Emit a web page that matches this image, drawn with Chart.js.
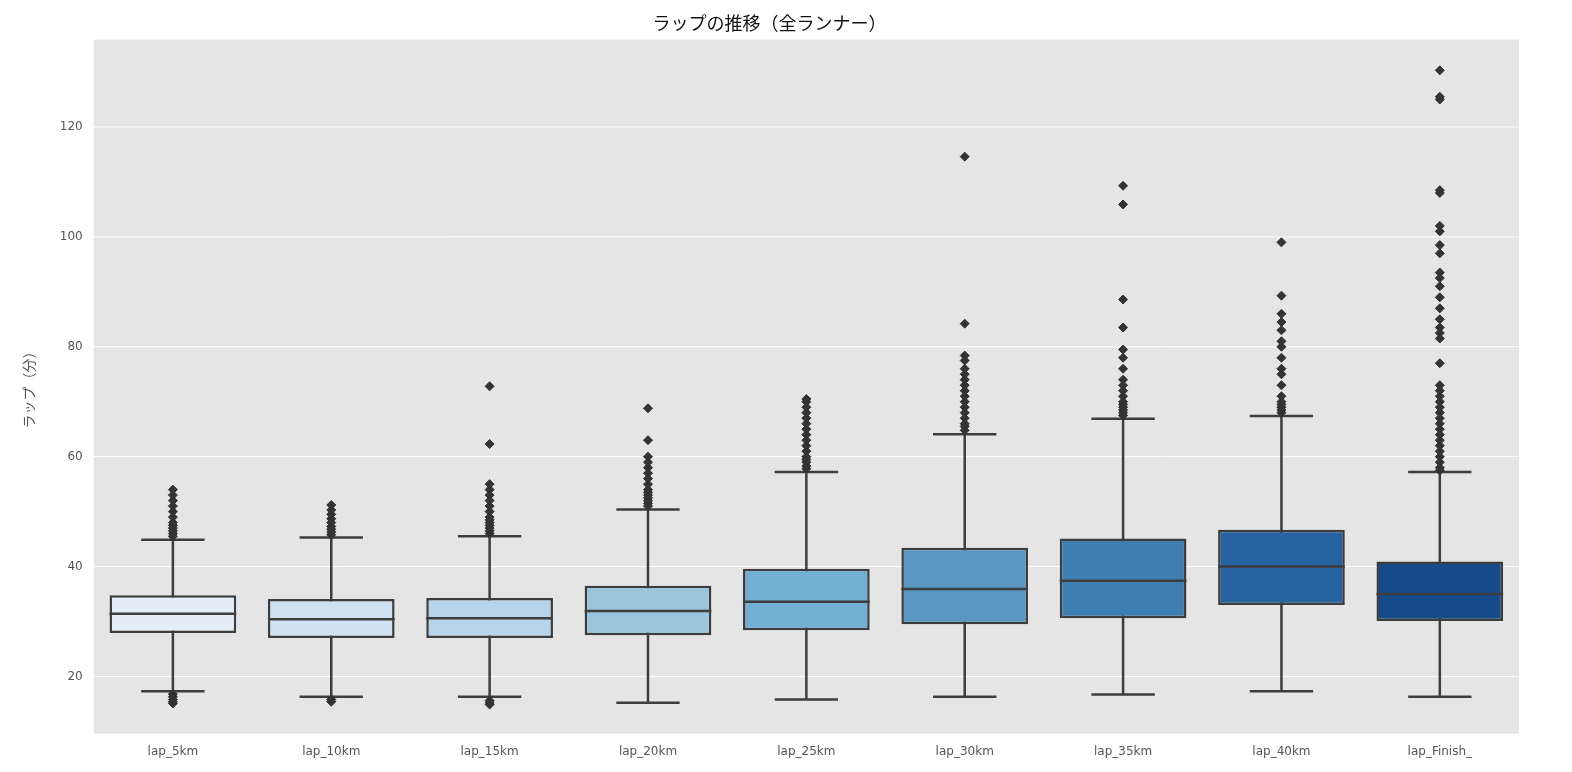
<!DOCTYPE html>
<html><head><meta charset="utf-8">
<script src="https://cdn.jsdelivr.net/npm/chart.js@4/dist/chart.umd.min.js"></script>
<style>html,body{margin:0;background:#fff}#wrap{width:1572px;height:772px}</style>
</head><body><div id="wrap"><canvas id="c"></canvas></div>
<script>
const categories = ['lap_5km','lap_10km','lap_15km','lap_20km','lap_25km','lap_30km','lap_35km','lap_40km','lap_Finish_'];
const q1 = [27.9,27.0,27.0,27.5,28.4,29.5,30.6,33.0,30.1];
const q3 = [34.8,34.1,34.3,36.5,39.6,43.4,45.1,46.7,40.9];
const medians = [31.4,30.4,30.6,31.9,33.6,35.9,37.4,40.0,35.0];
const whiskerLow = [17.3,16.3,16.3,15.2,15.8,16.3,16.7,17.3,16.3];
const whiskerHigh = [44.9,45.3,45.5,50.4,57.2,64.1,66.9,67.4,57.2];
const outliers = [
  [45.5,46,46.5,47,47.5,48,49,50,51,52,53,54,16.8,16.3,15.8,15.4,15.1],
  [45.8,46.3,46.8,47.3,48,48.7,49.5,50.3,51.2,15.8,15.4],
  [46,46.5,47,47.5,48,48.5,49,50,51,52,53,54,55,62.3,72.8,15.6,15.2,14.9],
  [51,51.5,52,52.5,53,53.5,54,55,56,57,58,59,60,63,68.8],
  [57.8,58.3,59,59.5,60,61,62,63,64,65,66,67,68,69,70,70.5],
  [64.8,65.5,66,67,68,69,70,71,72,73,74,75,76,77.5,78.4,84.2,114.6],
  [67.5,68,68.5,69,69.5,70,71,72,73,74,76,78,79.5,83.5,88.6,105.9,109.3],
  [68,68.5,69,69.5,70,71,73,75,76,78,80,81,83,84.5,86,89.3,99],
  [57.5,58,59,60,61,62,63,64,65,66,67,68,69,70,71,72,73,77,81.5,82.5,83.5,85,87,89,91,92.5,93.5,97,98.5,101,102,108,108.5,125,125.5,130.3]
];
const yTicks = [20,40,60,80,100,120];
const colors = ['#e3eef9','#d0e1f2','#b7d4ea','#9ac4dc','#73aed3','#5a97c2','#3e7eb0','#2863a1','#144b88'];
const edge = '#3d3d3d';

const outlierPoints = [];
outliers.forEach((arr,i)=>arr.forEach(v=>outlierPoints.push({x:categories[i],y:v})));

const boxPlugin = {
  id:'box',
  beforeDatasetsDraw(chart){
    const {ctx,scales:{x,y}} = chart;
    const meta = chart.getDatasetMeta(0);
    ctx.save();
    ctx.fillStyle='#e5e5e5';
    const a=chart.chartArea; ctx.fillRect(a.left,a.top,a.right-a.left,a.bottom-a.top);
    ctx.strokeStyle='#ffffff'; ctx.lineWidth=1;
    yTicks.forEach(t=>{const py=y.getPixelForValue(t);ctx.beginPath();ctx.moveTo(a.left,py);ctx.lineTo(a.right,py);ctx.stroke();});
    ctx.strokeStyle=edge; ctx.lineWidth=2.5;
    categories.forEach((c,i)=>{
      const cx=x.getPixelForValue(i); const hw=meta.data[i].width/4;
      const pl=y.getPixelForValue(whiskerLow[i]), ph=y.getPixelForValue(whiskerHigh[i]);
      ctx.beginPath();
      ctx.moveTo(cx,pl);ctx.lineTo(cx,ph);
      ctx.moveTo(cx-hw,pl);ctx.lineTo(cx+hw,pl);
      ctx.moveTo(cx-hw,ph);ctx.lineTo(cx+hw,ph);
      ctx.stroke();
    });
    ctx.restore();
  },
  afterDatasetsDraw(chart){
    const {ctx,scales:{x,y}} = chart;
    const meta = chart.getDatasetMeta(0);
    ctx.save(); ctx.strokeStyle=edge; ctx.lineWidth=2.5;
    categories.forEach((c,i)=>{
      const cx=x.getPixelForValue(i), hw=meta.data[i].width/2, pm=y.getPixelForValue(medians[i]);
      ctx.beginPath();ctx.moveTo(cx-hw,pm);ctx.lineTo(cx+hw,pm);ctx.stroke();
    });
    ctx.restore();
  }
};

new Chart(document.getElementById('c'),{
  data:{labels:categories,datasets:[
    {type:'bar',data:categories.map((c,i)=>[q1[i],q3[i]]),backgroundColor:colors,borderColor:edge,borderWidth:2.5,borderSkipped:false,barPercentage:0.8,categoryPercentage:1,order:2},
    {type:'line',data:outlierPoints,showLine:false,pointStyle:'rectRot',pointRadius:4.5,pointBackgroundColor:'#333',pointBorderColor:'#333',order:1}
  ]},
  options:{
    responsive:true,maintainAspectRatio:false,animation:false,
    layout:{padding:{left:20,right:53,top:12,bottom:10}},
    plugins:{legend:{display:false},tooltip:{enabled:false},
      title:{display:true,text:'ラップの推移（全ランナー）',color:'#111',font:{family:'Noto Sans CJK JP',size:18,weight:'normal'},padding:{top:0,bottom:6}}},
    scales:{
      x:{grid:{display:false},border:{display:false},ticks:{color:'#555',font:{family:'DejaVu Sans',size:12}}},
      y:{min:9.6,max:135.9,grid:{display:false},border:{display:false},
        afterBuildTicks(s){s.ticks=yTicks.map(v=>({value:v}));},
        ticks:{color:'#555',font:{family:'DejaVu Sans',size:12}},
        title:{display:true,text:'ラップ（分）',color:'#555',font:{family:'Noto Sans CJK JP',size:14},padding:{top:0,bottom:20}}}
    }
  },
  plugins:[boxPlugin]
});
</script></body></html>
